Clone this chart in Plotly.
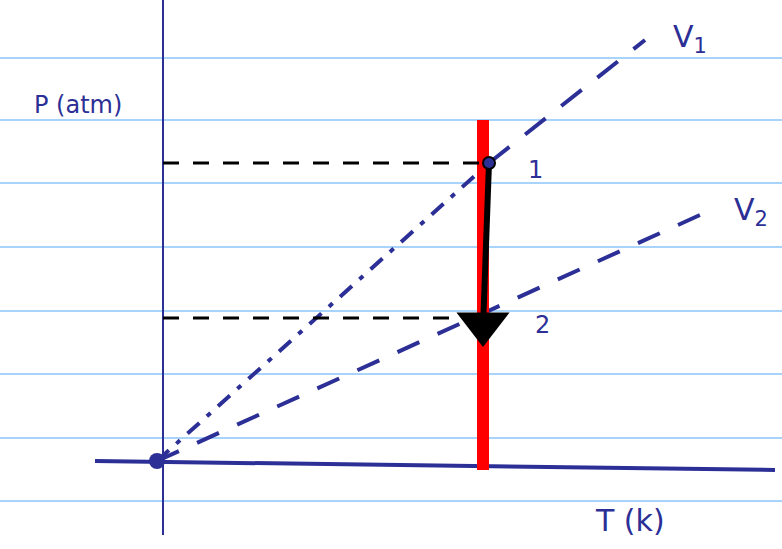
import plotly.graph_objects as go

# --- data (T in arbitrary units from the origin, P likewise) ---
ruled_lines_P = [403, 341, 278, 214, 150, 87, 23, -40]   # notebook ruling
state_T = [332, 326]        # states 1 and 2 (same temperature)
state_P = [298, 143]
state_labels = ["1", "2"]
v1_T = [0, 332, 488]
v1_P = [0, 298, 421]
v2_T = [0, 316, 543]
v2_P = [0, 143, 246]
t_axis_T = [-62, 618]
t_axis_P = [0, -9]
p_axis_T = [6, 6]
p_axis_P = [461, -74]
isotherm_T = [326, 326]
isotherm_P = [-9, 341]

PEN = "#2c2f96"
RULE = "#a8d4fb"

fig = go.Figure()

# ruled paper
for p in ruled_lines_P:
    fig.add_trace(go.Scatter(x=[-157, 625], y=[p, p], mode="lines",
                             line=dict(color=RULE, width=2), hoverinfo="skip"))

# axes
fig.add_trace(go.Scatter(x=p_axis_T, y=p_axis_P, mode="lines",
                         line=dict(color=PEN, width=2)))
fig.add_trace(go.Scatter(x=t_axis_T, y=t_axis_P, mode="lines",
                         line=dict(color=PEN, width=4)))

# isochore V1: dash-dot up to state 1, dashed beyond
fig.add_trace(go.Scatter(x=v1_T[:2], y=v1_P[:2], mode="lines",
                         line=dict(color=PEN, width=4, dash="16px,10px,5px,10px")))
fig.add_trace(go.Scatter(x=v1_T[1:], y=v1_P[1:], mode="lines",
                         line=dict(color=PEN, width=4, dash="26px,20px")))
# isochore V2
fig.add_trace(go.Scatter(x=v2_T, y=v2_P, mode="lines",
                         line=dict(color=PEN, width=4, dash="24px,20px")))

# red isotherm
fig.add_trace(go.Scatter(x=isotherm_T, y=isotherm_P, mode="lines",
                         line=dict(color="#ff0000", width=12)))

# pressure guide lines to the P axis
for T, P in zip(state_T, state_P):
    fig.add_trace(go.Scatter(x=[p_axis_T[0], T], y=[P, P], mode="lines",
                             line=dict(color="black", width=3, dash="16px,14px")))

# process arrow 1 -> 2
fig.add_trace(go.Scatter(x=[state_T[0], state_T[1]], y=[state_P[0], state_P[1] - 10],
                         mode="lines", line=dict(color="black", width=6)))
fig.add_trace(go.Scatter(x=[state_T[1]], y=[state_P[1] - 6], mode="markers",
                         marker=dict(symbol="triangle-down", size=46, color="black")))

# origin and state 1 markers
fig.add_trace(go.Scatter(x=[0], y=[0], mode="markers",
                         marker=dict(color=PEN, size=16)))
fig.add_trace(go.Scatter(x=[state_T[0]], y=[state_P[0]], mode="markers",
                         marker=dict(color=PEN, size=12, line=dict(color="black", width=2))))

# labels
font = dict(family="DejaVu Sans", color=PEN, size=24)
fig.add_annotation(x=-79, y=356, text="P (atm)", showarrow=False, font=font)
fig.add_annotation(x=533, y=423, text="V<sub>1</sub>", showarrow=False,
                   font=dict(family="DejaVu Sans", color=PEN, size=30))
fig.add_annotation(x=594, y=250, text="V<sub>2</sub>", showarrow=False,
                   font=dict(family="DejaVu Sans", color=PEN, size=30))
fig.add_annotation(x=378, y=291, text=state_labels[0], showarrow=False, font=font)
fig.add_annotation(x=385, y=136, text=state_labels[1], showarrow=False, font=font)
fig.add_annotation(x=473, y=-59, text="T (k)", showarrow=False,
                   font=dict(family="DejaVu Sans", color=PEN, size=30))

fig.update_layout(
    width=782, height=549, margin=dict(l=0, r=0, t=0, b=0),
    showlegend=False, plot_bgcolor="white", paper_bgcolor="white",
    xaxis=dict(range=[-157, 625], visible=False, fixedrange=True),
    yaxis=dict(range=[-88, 461], visible=False, fixedrange=True),
)

fig.write_html("out.html")
